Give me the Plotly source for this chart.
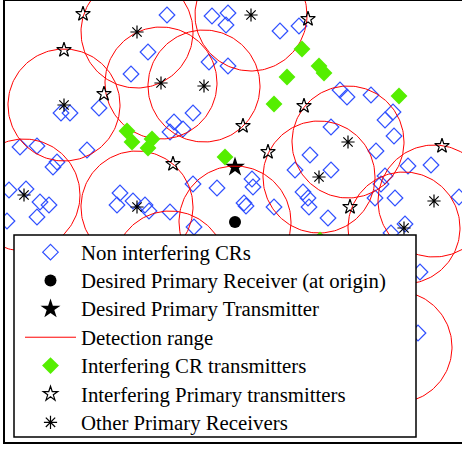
import numpy as np
import plotly.graph_objects as go

# Positions in metres, desired primary receiver at the origin
R = 56  # detection range of every primary receiver

# Non interfering CRs
cr_x = [-68, -23, -7, -9, 45, 64, -87, -104, -26, -7, -174, -165, -136, -42, -61, -65, -52,
        -215, -198, -148, -178, -182, -226, -209, -195, -186, -198, -228, -115, -118, -102, -90,
        -86, -65, -42, -18, -41, 17, 18, 9, 11, 39, 60, 68, 73, 74, 93, 105, 112, 136, 158, 150,
        159, 96, 75, 96, 141, 173, 196, 150, 146, 140, 160, 224, 170, 156, 185, 183]
cr_y = [207, 206, 209, 197, 191, 196, 170, 148, 160, 156, 109, 109, 114, 109, 100, 90, 93,
        75, 76, 72, 60, 55, 32, 33, 20, 17, 5, 1, 29, 17, 21, 17,
        11, 10, 38, 34, -5, 43, 35, 19, 16, 15, 52, 30, 24, 15, 4, 132, 125, 127, 110, 102,
        86, 95, 67, 52, 71, 56, 57, 46, 38, 24, 24, 25, -2, -11, -50, -111]

# Desired primary pair
rx_x, rx_y = [0], [0]
tx_x, tx_y = [0], [55]

# Interfering CR transmitters
icr_x = [-108, -103, -83, -87, -10, 67, 84, 89, 52, 39, 164, 85]
icr_y = [91, 80, 83, 74, 65, 173, 156, 149, 145, 118, 126, -18]

# Interfering primary transmitters
ipt_x = [-152, -171, -131, 73, 69, 8, 33, -62, 207, 115]
ipt_y = [208, 172, 128, 203, 116, 96, 70, 58, 76, 15]

# Other primary receivers
opr_x = [-98, 16, -171, -74, -31, -211, -98, 84, 113, 199, 169, -65, 161]
opr_y = [190, 207, 117, 139, 136, 27, 15, 45, 80, 21, -6, -45, -125]

# Detection range circles around every primary receiver
centers_x = rx_x + opr_x
centers_y = rx_y + opr_y
theta = np.linspace(0, 2 * np.pi, 181)
circ_x, circ_y = [], []
for cx, cy in zip(centers_x, centers_y):
    circ_x += list(cx + R * np.cos(theta)) + [None]
    circ_y += list(cy + R * np.sin(theta)) + [None]


def label(text):
    # legend rows keep their spacing while the glyphs are drawn a bit larger
    return '<span style="font-size:20.8px">' + text + '</span>'


fig = go.Figure()
fig.add_trace(go.Scatter(
    x=cr_x, y=cr_y, mode="markers", name=label("Non interfering CRs"),
    marker=dict(symbol="diamond-open", size=12, color="#3050ff", line=dict(width=1.2))))
fig.add_trace(go.Scatter(
    x=rx_x, y=rx_y, mode="markers", name=label("Desired Primary Receiver (at origin)"),
    marker=dict(symbol="circle", size=12, color="black")))
fig.add_trace(go.Scatter(
    x=tx_x, y=tx_y, mode="markers", name=label("Desired Primary Transmitter"),
    marker=dict(symbol="star", size=15, color="black")))
fig.add_trace(go.Scatter(
    x=circ_x, y=circ_y, mode="lines", name=label("Detection range"),
    line=dict(color="#ff0000", width=1)))
fig.add_trace(go.Scatter(
    x=icr_x, y=icr_y, mode="markers", name=label("Interfering CR transmitters"),
    marker=dict(symbol="diamond", size=13, color="#55ee00")))
fig.add_trace(go.Scatter(
    x=ipt_x, y=ipt_y, mode="markers", name=label("Interfering Primary transmitters"),
    marker=dict(symbol="star-open", size=11, color="black", line=dict(width=1.2))))
fig.add_trace(go.Scatter(
    x=opr_x, y=opr_y, mode="markers", name=label("Other Primary Receivers"),
    marker=dict(symbol="asterisk-open", size=11, color="black", line=dict(width=1.2))))

W, H = 462, 449
ml, mr, mt, mb = 5, 0, 1, 7
pw, ph = W - ml - mr, H - mt - mb


def px_x(p):
    return (p - ml) / pw


def px_y(p):
    return (H - mb - p) / ph


fig.update_layout(
    width=W, height=H,
    margin=dict(l=ml, r=mr, t=mt, b=mb, pad=0),
    paper_bgcolor="white", plot_bgcolor="white",
    showlegend=True,
    xaxis=dict(range=[-230, 227], showgrid=False, zeroline=False, showticklabels=False,
               ticks="", showline=True, linecolor="black", linewidth=1.5, mirror=True),
    yaxis=dict(range=[-220, 221], showgrid=False, zeroline=False, showticklabels=False,
               ticks="", showline=True, linecolor="black", linewidth=1.5),
    legend=dict(x=px_x(20), y=px_y(233), xanchor="left", yanchor="top",
                bgcolor="rgba(0,0,0,0)", borderwidth=0, itemwidth=51,
                font=dict(family="Liberation Serif", size=19.5, color="black")),
    shapes=[dict(type="rect", xref="paper", yref="paper", layer="above",
                 x0=px_x(14), x1=px_x(416), y0=px_y(437), y1=px_y(235),
                 fillcolor="white", line=dict(color="black", width=1.5))],
)

fig.write_html("out.html")
